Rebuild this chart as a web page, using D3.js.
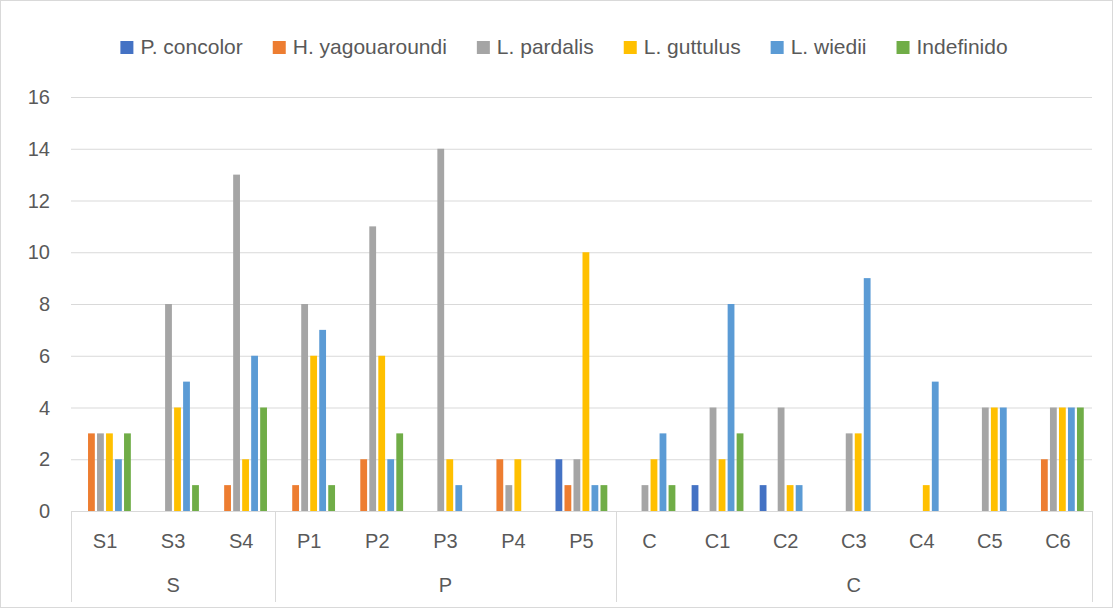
<!DOCTYPE html>
<html>
<head>
<meta charset="utf-8">
<script src="https://cdn.jsdelivr.net/npm/d3@7"></script>
<style>
  body { margin: 0; background: #fff; }
  text { font-family: "Liberation Sans", Arial, sans-serif; fill: #595959; }
</style>
</head>
<body>
<div id="chart"></div>
<script>
// Data
const groups = ["S", "P", "C"];
const categories = ["S1", "S3", "S4", "P1", "P2", "P3", "P4", "P5", "C", "C1", "C2", "C3", "C4", "C5", "C6"];
const categoryGroup = ["S", "S", "S", "P", "P", "P", "P", "P", "C", "C", "C", "C", "C", "C", "C"];
const seriesNames = ["P. concolor", "H. yagouaroundi", "L. pardalis", "L. guttulus", "L. wiedii", "Indefinido"];
const colors = ["#4472C4", "#ED7D31", "#A5A5A5", "#FFC000", "#5B9BD5", "#70AD47"];

const pConcolor = [0, 0, 0, 0, 0, 0, 0, 2, 0, 1, 1, 0, 0, 0, 0];
const hYagouaroundi = [3, 0, 1, 1, 2, 0, 2, 1, 0, 0, 0, 0, 0, 0, 2];
const lPardalis = [3, 8, 13, 8, 11, 14, 1, 2, 1, 4, 4, 3, 0, 4, 4];
const lGuttulus = [3, 4, 2, 6, 6, 2, 2, 10, 2, 2, 1, 3, 1, 4, 4];
const lWiedii = [2, 5, 6, 7, 2, 1, 0, 1, 3, 8, 1, 9, 5, 4, 4];
const indefinido = [3, 1, 4, 1, 3, 0, 0, 1, 1, 3, 0, 0, 0, 0, 4];
const seriesValues = [pConcolor, hYagouaroundi, lPardalis, lGuttulus, lWiedii, indefinido];

const yTicks = [0, 2, 4, 6, 8, 10, 12, 14, 16];

// Layout
const width = 1117;
const height = 612;
const plot = { left: 71, right: 1092, top: 97, bottom: 511 };

const svg = d3.select("#chart").append("svg")
    .attr("width", width)
    .attr("height", height);

// chart border
svg.append("rect")
    .attr("x", 0.5).attr("y", 0.5)
    .attr("width", 1112).attr("height", 607)
    .attr("fill", "none")
    .attr("stroke", "#d9d9d9");

const x0 = d3.scaleBand().domain(categories).range([plot.left, plot.right]);
const x1 = d3.scaleBand().domain(seriesNames).range([0, x0.bandwidth()]).paddingOuter(0.78);
const y = d3.scaleLinear().domain([0, 16]).range([plot.bottom, plot.top]);

// gridlines
svg.append("g").selectAll("line")
    .data(yTicks.filter(d => d > 0))
    .enter().append("line")
    .attr("x1", plot.left).attr("x2", plot.right)
    .attr("y1", d => y(d) + 0.5).attr("y2", d => y(d) + 0.5)
    .attr("stroke", "#d9d9d9")
    .attr("stroke-width", 1);

// y labels
svg.append("g").selectAll("text")
    .data(yTicks)
    .enter().append("text")
    .attr("x", 50)
    .attr("y", d => y(d))
    .attr("dy", "0.36em")
    .attr("text-anchor", "end")
    .attr("font-size", 20)
    .text(d => d);

// bars
const bars = [];
seriesValues.forEach((vals, si) => {
    vals.forEach((v, ci) => {
        if (v > 0) bars.push({ cat: categories[ci], series: seriesNames[si], color: colors[si], value: v });
    });
});
svg.append("g").selectAll("rect")
    .data(bars)
    .enter().append("rect")
    .attr("x", d => x0(d.cat) + x1(d.series) + 1)
    .attr("y", d => y(d.value))
    .attr("width", x1.bandwidth() - 2.2)
    .attr("height", d => y(0) - y(d.value))
    .attr("fill", d => d.color);

// category axis
svg.append("line")
    .attr("x1", plot.left).attr("x2", plot.right)
    .attr("y1", plot.bottom + 0.5).attr("y2", plot.bottom + 0.5)
    .attr("stroke", "#d9d9d9");

svg.append("g").selectAll("text")
    .data(categories)
    .enter().append("text")
    .attr("x", d => x0(d) + x0.bandwidth() / 2)
    .attr("y", 548)
    .attr("text-anchor", "middle")
    .attr("font-size", 20)
    .text(d => d);

// group spans
const groupSpans = groups.map(g => {
    const cats = categories.filter((c, i) => categoryGroup[i] === g);
    return { name: g, x0: x0(cats[0]), x1: x0(cats[cats.length - 1]) + x0.bandwidth() };
});
const bounds = [plot.left].concat(groupSpans.map(d => d.x1));
svg.append("g").selectAll("line")
    .data(bounds)
    .enter().append("line")
    .attr("x1", d => Math.round(d) + 0.5).attr("x2", d => Math.round(d) + 0.5)
    .attr("y1", plot.bottom).attr("y2", 602)
    .attr("stroke", "#d9d9d9");

svg.append("g").selectAll("text")
    .data(groupSpans)
    .enter().append("text")
    .attr("x", d => (d.x0 + d.x1) / 2)
    .attr("y", 592)
    .attr("text-anchor", "middle")
    .attr("font-size", 20)
    .text(d => d.name);

// legend
const legend = svg.append("g");
const items = legend.selectAll("g")
    .data(seriesNames)
    .enter().append("g");
items.append("rect")
    .attr("width", 13).attr("height", 13)
    .attr("y", 41)
    .attr("fill", (d, i) => colors[i]);
items.append("text")
    .attr("x", 20)
    .attr("y", 54)
    .attr("font-size", 21)
    .text(d => d);

let cursor = 0;
items.each(function () {
    const w = this.querySelector("text").getComputedTextLength();
    d3.select(this).attr("transform", `translate(${cursor},0)`);
    cursor += 20 + w + 30;
});
const legendWidth = cursor - 30;
legend.attr("transform", `translate(${564 - legendWidth / 2},0)`);
</script>
</body>
</html>
